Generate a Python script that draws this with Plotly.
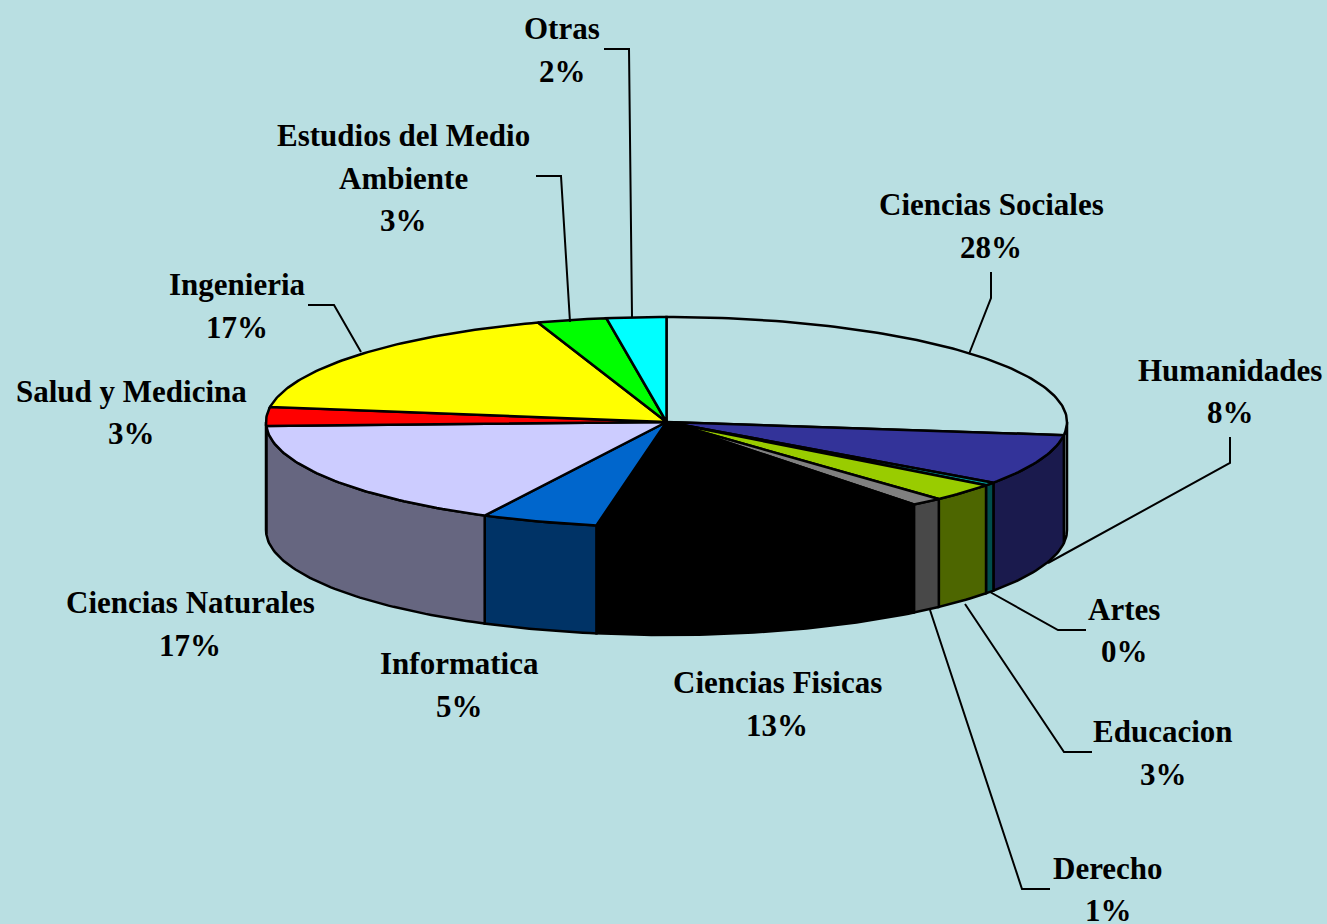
import math
import plotly.graph_objects as go

# ---- data ----
categories = ["Ciencias Sociales", "Humanidades", "Artes", "Educacion", "Derecho",
              "Ciencias Fisicas", "Informatica", "Ciencias Naturales", "Salud y Medicina",
              "Ingenieria", "Estudios del Medio Ambiente", "Otras"]
shares = [27.0, 7.8, 0.5, 2.8, 1.3, 13.4, 4.7, 16.9, 2.9, 17.5, 2.8, 2.4]
shown_percent = ["28%", "8%", "0%", "3%", "1%", "13%", "5%", "17%", "3%", "17%", "3%", "2%"]

# ---- styles ----
top_colors = ["#B9DFE2", "#333399", "#009999", "#99CC00", "#808080", "#000000",
              "#0066CC", "#CCCCFF", "#FF0000", "#FFFF00", "#00FF00", "#00FFFF"]
wall_colors = ["#8A9FA2", "#1A1A4D", "#004D4D", "#4D6600", "#484848", "#000000",
               "#003366", "#666680", "#800000", "#808000", "#008000", "#008080"]
BG = "#B9DFE2"
FONT = "Liberation Serif"
FS = 31
CX, CY, RX, RY, DEPTH = 666.5, 422, 400.5, 105, 108

def rim(t, dy=0):
    r = math.radians(t)
    return CX + RX * math.sin(r), CY - RY * math.cos(r) + dy

def arc(a, b, dy=0):
    n = max(2, int(abs(b - a)) + 2)
    return [rim(a + (b - a) * i / (n - 1), dy) for i in range(n)]

total = sum(shares)
edges = [0]
for s in shares:
    edges.append(edges[-1] + s / total * 360)

fig = go.Figure()

def poly(pts, fill):
    xs = [p[0] for p in pts] + [pts[0][0]]
    ys = [p[1] for p in pts] + [pts[0][1]]
    fig.add_trace(go.Scatter(x=xs, y=ys, mode="lines", fill="toself", fillcolor=fill,
                             line=dict(color="#000000", width=2.5),
                             hoverinfo="skip", showlegend=False))

# outer walls (front half only)
for i in range(len(shares)):
    a, b = max(edges[i], 90), min(edges[i + 1], 270)
    if b > a:
        poly(arc(a, b) + arc(b, a, DEPTH), wall_colors[i])

# top faces
for i in range(len(shares)):
    poly([(CX, CY)] + arc(edges[i], edges[i + 1]), top_colors[i])

# leader lines
leaders = [
    [(604, 49), (629, 49), (632, 317)],
    [(536, 176), (561, 176), (570, 322)],
    [(991, 272), (991, 298), (969, 354)],
    [(1230, 437), (1230, 463), (1048, 563)],
    [(1086, 630), (1058, 630), (990, 592)],
    [(1092, 752), (1064, 752), (965, 604)],
    [(1050, 889), (1022, 889), (930, 610)],
    [(308, 305), (334, 305), (361, 352)],
]
for pts in leaders:
    fig.add_trace(go.Scatter(x=[p[0] for p in pts], y=[p[1] for p in pts], mode="lines",
                             line=dict(color="#000000", width=2),
                             hoverinfo="skip", showlegend=False))

# label layout: per category, x + y of each line centre
label_pos = {
    "Ciencias Sociales": (991, [204, 247]),
    "Humanidades": (1230, [370, 412]),
    "Artes": (1124, [609, 651]),
    "Educacion": (1163, [731, 774]),
    "Derecho": (1108, [868, 910]),
    "Ciencias Fisicas": (777, [682, 725]),
    "Informatica": (459, [663, 706]),
    "Ciencias Naturales": (190, [602, 645]),
    "Salud y Medicina": (131, [391, 433]),
    "Ingenieria": (237, [284, 327]),
    "Estudios del Medio Ambiente": (403, [135, 178, 220]),
    "Otras": (562, [28, 71]),
}
wraps = {"Estudios del Medio Ambiente": ["Estudios del Medio", "Ambiente"]}
annotations = []
for name, pct in zip(categories, shown_percent):
    x, ys = label_pos[name]
    for line, y in zip(wraps.get(name, [name]) + [pct], ys):
        annotations.append(dict(x=x, y=y, text="<b>" + line + "</b>", showarrow=False, xanchor="center",
                                yanchor="middle", font=dict(family=FONT, size=FS, color="#000000")))

fig.update_layout(
    width=1327, height=924, autosize=False,
    paper_bgcolor=BG, plot_bgcolor=BG,
    margin=dict(l=0, r=0, t=0, b=0),
    xaxis=dict(range=[0, 1327], visible=False, fixedrange=True),
    yaxis=dict(range=[924, 0], visible=False, fixedrange=True),
    annotations=annotations,
    showlegend=False,
)
fig.write_html("out.html", config=dict(displayModeBar=False),
               post_script="document.body.style.margin='0';document.body.style.background='#B9DFE2';")
